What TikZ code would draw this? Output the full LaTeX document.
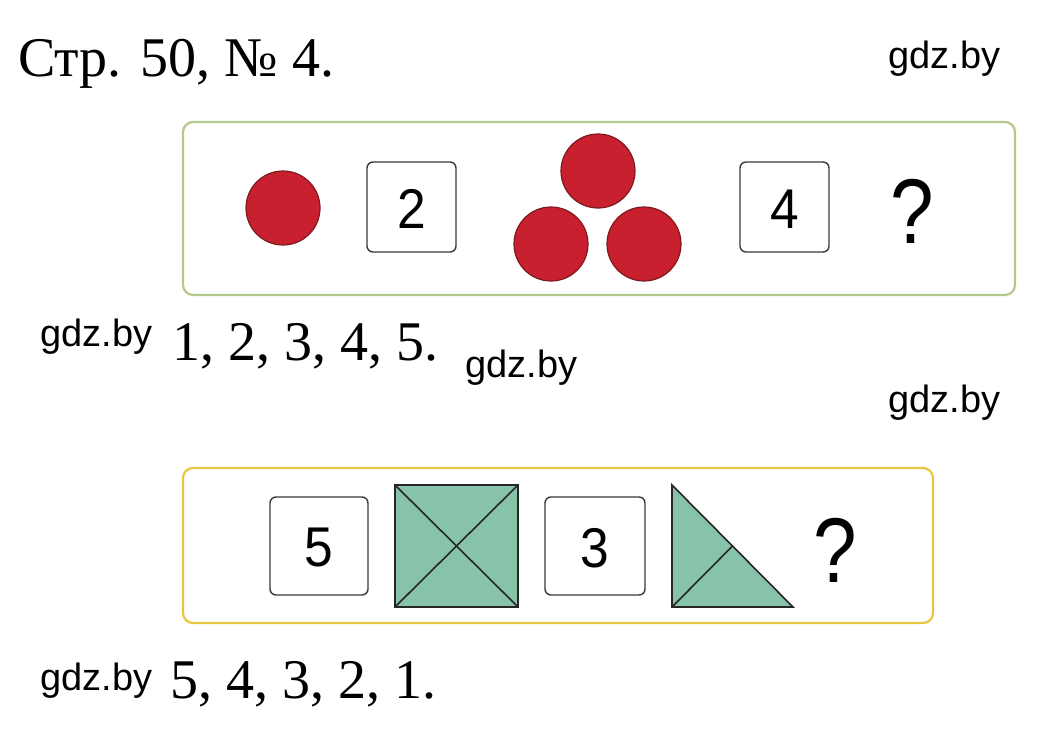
\documentclass[tikz,border=0pt]{standalone}
\usepackage{fontspec}
\setmainfont{Liberation Serif}
\newfontfamily\wmfont{Liberation Sans}
\definecolor{redfill}{HTML}{C8202E}
\definecolor{redline}{HTML}{7E1A1F}
\definecolor{greenframe}{HTML}{B5C88A}
\definecolor{yellowframe}{HTML}{E8C640}
\definecolor{teal}{HTML}{86C3A9}
\definecolor{numline}{HTML}{3A3A3A}
\tikzset{
  wm/.style={anchor=base west, inner sep=0pt, font=\wmfont\fontsize{38}{40}\selectfont},
  ans/.style={anchor=base west, inner sep=0pt, font=\fontsize{56}{60}\selectfont},
  frame/.style={rounded corners=10pt, line width=2.2pt, fill=white},
  numbox/.style={draw=numline, line width=1.4pt, rounded corners=6pt, fill=white},
  numtxt/.style={inner sep=0pt, xscale=0.92, font=\wmfont\fontsize{56}{60}\selectfont},
  qmark/.style={inner sep=0pt, xscale=0.85, font=\wmfont\fontsize{92}{96}\selectfont},
  dot/.style={circle, draw=redline, line width=1.2pt, fill=redfill, minimum width=72pt, minimum height=74pt, inner sep=0pt},
  figline/.style={draw=black!85, line width=1.6pt, fill=teal, line join=miter},
}
\begin{document}
\begin{tikzpicture}[x=1pt,y=-1pt]
\useasboundingbox[fill=white] (0,0) rectangle (1046,736);
% title
\node[anchor=base west, inner sep=0pt, font=\fontsize{56}{60}\selectfont] (title) at (18,76) {Стр. 50, № 4.};
\node[wm] (wm1) at (888,68) {gdz.by};
% first frame
\draw[frame, draw=greenframe] (183,122) rectangle (1015,295);
\node[dot] (c1) at (283,208) {};
\draw[numbox] (367,162) rectangle (456,252);
\node[numtxt] (n2) at (411.5,209) {2};
\node[dot] (c2) at (598,171) {};
\node[dot] (c3) at (551,244) {};
\node[dot] (c4) at (644,244) {};
\draw[numbox] (740,162) rectangle (829,252);
\node[numtxt] (n4) at (784.5,209) {4};
\node[qmark] (q1) at (912,211) {?};
% answer 1
\node[wm] (wm2) at (40,346) {gdz.by};
\node[ans] (a1) at (172,360) {1, 2, 3, 4, 5.};
\node[wm] (wm3) at (465,377) {gdz.by};
\node[wm] (wm4) at (888,412) {gdz.by};
% second frame
\draw[frame, draw=yellowframe] (183,468) rectangle (933,623);
\draw[numbox] (270,497) rectangle (368,595);
\node[numtxt] (n5) at (319,548) {5};
\draw[figline] (395,485) rectangle (518,607);
\draw[draw=black!85, line width=1.6pt] (395,485) -- (518,607) (518,485) -- (395,607);
\draw[numbox] (545,497) rectangle (645,595);
\node[numtxt] (n3) at (595,548) {3};
\draw[figline] (672,485) -- (793,607) -- (672,607) -- cycle;
\draw[draw=black!85, line width=1.6pt] (732.5,546) -- (672,607);
\node[qmark] (q2) at (835,550) {?};
% answer 2
\node[wm] (wm5) at (40,690) {gdz.by};
\node[ans] (a2) at (170,698) {5, 4, 3, 2, 1.};
\end{tikzpicture}
\end{document}
